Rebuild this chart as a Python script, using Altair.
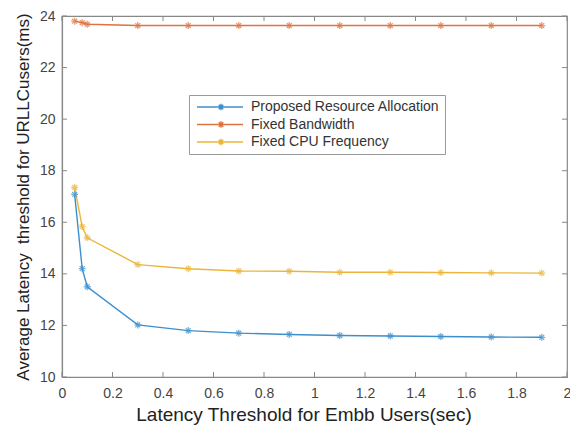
import altair as alt
import pandas as pd

x_vals = [0.05, 0.08, 0.1, 0.3, 0.5, 0.7, 0.9, 1.1, 1.3, 1.5, 1.7, 1.9]
proposed = [17.08, 14.2, 13.5, 12.02, 11.8, 11.7, 11.65, 11.61, 11.59, 11.57, 11.55, 11.54]
fixed_bw = [23.8, 23.74, 23.68, 23.63, 23.63, 23.63, 23.63, 23.63, 23.63, 23.63, 23.63, 23.63]
fixed_cpu = [17.35, 15.83, 15.4, 14.36, 14.2, 14.11, 14.1, 14.06, 14.06, 14.05, 14.04, 14.03]
series_names = ["Proposed Resource Allocation", "Fixed Bandwidth", "Fixed CPU Frequency"]
series_colors = ["#3d8fcc", "#e0723e", "#ecb53a"]
x_ticks = [0, 0.2, 0.4, 0.6, 0.8, 1, 1.2, 1.4, 1.6, 1.8, 2]
y_ticks = [10, 12, 14, 16, 18, 20, 22, 24]

rows = []
for name, vals in zip(series_names, [proposed, fixed_bw, fixed_cpu]):
    for i, (xv, yv) in enumerate(zip(x_vals, vals)):
        rows.append({"x": xv, "y": yv, "series": name, "order": i})
df = pd.DataFrame(rows)

W, H = 505, 361
FONT = "Liberation Sans"
xscale = alt.Scale(domain=[0, 2], nice=False, zero=False)
yscale = alt.Scale(domain=[10, 24], nice=False, zero=False)

asterisk = "M0,-1V1M-1,0H1M-0.7,-0.7L0.7,0.7M-0.7,0.7L0.7,-0.7"
legend_sym = ("M-1,0H10.5M5,-0.8V0.8M4.2,0H5.8M4.43,-0.57L5.57,0.57"
              "M4.43,0.57L5.57,-0.57")

color = alt.Color(
    "series:N",
    scale=alt.Scale(domain=series_names, range=series_colors),
    legend=alt.Legend(
        title=None, orient="none", legendX=127, legendY=79,
        symbolType=legend_sym, symbolSize=64, symbolStrokeWidth=1.4,
        symbolFillColor="transparent", labelOffset=43,
        labelFont=FONT, labelFontSize=14, labelColor="#333",
        strokeColor="#999", fillColor="white", padding=5, rowPadding=3.5,
        labelLimit=400,
    ),
)

def xaxis():
    return alt.Axis(values=x_ticks, grid=False, tickSize=0, labelPadding=9,
                    title="Latency Threshold for Embb Users(sec)", titlePadding=5,
                    titleFontSize=19, titleX=W / 2 - 11,
                    labelFlush=False,
                    labelExpr="datum.value == 0 || datum.value == 1 || datum.value == 2 ? format(datum.value, 'd') : format(datum.value, '.1f')")

def yaxis():
    return alt.Axis(values=y_ticks, grid=False, tickSize=0, labelPadding=7,
                    title="Average Latency \u00a0threshold for URLLCusers(ms)", titlePadding=7,
                    titleFontSize=17,
                    labelFlush=False)

base = alt.Chart(df)
lines = base.mark_line(strokeWidth=1.4).encode(
    x=alt.X("x:Q", scale=xscale, axis=xaxis()),
    y=alt.Y("y:Q", scale=yscale, axis=yaxis()),
    color=color,
    order="order:Q",
)
points = base.mark_point(shape=asterisk, size=49, filled=False, strokeWidth=1.3).encode(
    x=alt.X("x:Q", scale=xscale, axis=xaxis()),
    y=alt.Y("y:Q", scale=yscale, axis=yaxis()),
    color=alt.Color("series:N", scale=alt.Scale(domain=series_names, range=series_colors), legend=None),
)

xt = pd.DataFrame({"x": x_ticks})
yt = pd.DataFrame({"y": y_ticks})
tick_style = dict(color="#888", strokeWidth=1)
xb = alt.Chart(xt).mark_rule(**tick_style).encode(
    x=alt.X("x:Q", scale=xscale, axis=xaxis()), y=alt.value(H), y2=alt.value(H - 5))
xtop = alt.Chart(xt).mark_rule(**tick_style).encode(
    x=alt.X("x:Q", scale=xscale, axis=xaxis()), y=alt.value(0), y2=alt.value(5))
yl = alt.Chart(yt).mark_rule(**tick_style).encode(
    y=alt.Y("y:Q", scale=yscale, axis=yaxis()), x=alt.value(0), x2=alt.value(5))
yr = alt.Chart(yt).mark_rule(**tick_style).encode(
    y=alt.Y("y:Q", scale=yscale, axis=yaxis()), x=alt.value(W), x2=alt.value(W - 5))

chart = alt.layer(lines, points, xb, xtop, yl, yr).properties(
    width=W, height=H,
    autosize=alt.AutoSizeParams(type="none"),
    padding={"left": 54, "top": 8, "right": 3, "bottom": 50},
).configure_view(
    stroke="#888", strokeWidth=1.2
).configure_axis(
    domainColor="#888", domainWidth=1.2,
    labelFont=FONT, labelFontSize=14, labelColor="#444",
    titleFont=FONT, titleColor="#222", titleFontWeight="normal",
)

chart.save("out.html", embed_options={"renderer": "svg", "actions": False})
